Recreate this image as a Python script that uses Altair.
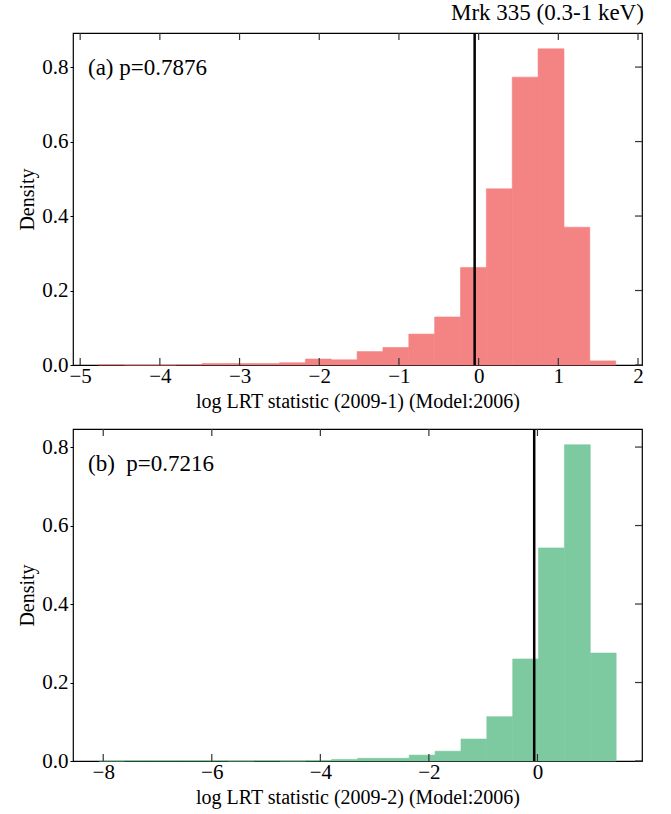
import altair as alt
import pandas as pd

FONT = "Liberation Serif"

# Panel (a): 2009-1
edges_a = [-4.770, -4.446, -4.121, -3.797, -3.472, -3.148, -2.823, -2.499, -2.174, -1.850,
           -1.525, -1.201, -0.876, -0.552, -0.227, 0.097, 0.422, 0.746, 1.071, 1.395, 1.720]
dens_a = [0.001, 0.0, 0.0, 0.001, 0.004, 0.004, 0.004, 0.006, 0.016, 0.014,
          0.036, 0.047, 0.083, 0.129, 0.262, 0.473, 0.773, 0.849, 0.370, 0.011]
obs_a = [-0.05]
xticks_a = [-5, -4, -3, -2, -1, 0, 1, 2]
xdom_a = [-5.09, 2.05]
ydom_a = [0, 0.8915]
label_a = "(a) p=0.7876"
title_a = "log LRT statistic (2009-1) (Model:2006)"

# Panel (b): 2009-2
edges_b = [-8.080, -7.604, -7.127, -6.651, -6.174, -5.698, -5.221, -4.745, -4.268, -3.792,
           -3.315, -2.839, -2.362, -1.886, -1.409, -0.933, -0.456, 0.020, 0.497, 0.973, 1.450]
dens_b = [0.0, 0.001, 0.001, 0.001, 0.001, 0.0, 0.001, 0.0, 0.001, 0.004,
          0.007, 0.007, 0.015, 0.025, 0.056, 0.113, 0.260, 0.543, 0.806, 0.275]
obs_b = [-0.06]
xticks_b = [-8, -6, -4, -2, 0]
xdom_b = [-8.557, 1.926]
ydom_b = [0, 0.846]
label_b = "(b)\u00a0 p=0.7216"
title_b = "log LRT statistic (2009-2) (Model:2006)"

yticks = [0.0, 0.2, 0.4, 0.6, 0.8]
main_title = "Mrk 335 (0.3-1 keV)"

W, H = 569, 332
TL = 7


def panel(edges, dens, obs, xticks, xdom, ydom, label, xtitle, color):
    bars = pd.DataFrame({"lo": edges[:-1], "hi": edges[1:], "d": dens, "z": [0.0] * len(dens)})
    xs = alt.Scale(domain=xdom, nice=False, zero=False)
    ys = alt.Scale(domain=ydom, nice=False, zero=False)
    base = alt.Chart(bars)
    rect = base.mark_rect(color=color, opacity=1, stroke=color, strokeWidth=0.6).encode(
        x=alt.X("lo:Q", scale=xs,
                axis=alt.Axis(values=xticks, title=xtitle, ticks=False, domain=False, grid=False,
                              labelPadding=0, titlePadding=5, format="d")),
        x2="hi:Q",
        y=alt.Y("d:Q", scale=ys,
                axis=alt.Axis(values=yticks, title="Density", format=".1f", tickSize=3,
                              tickColor="black", domain=False, grid=False, labelPadding=2,
                              titlePadding=4)),
        y2="z:Q",
    )
    vline = alt.Chart(pd.DataFrame({"v": obs})).mark_rule(color="black", strokeWidth=2.5).encode(
        x=alt.X("v:Q", scale=xs))
    xt = pd.DataFrame({"t": xticks})
    yt = pd.DataFrame({"t": yticks})
    bt = alt.Chart(xt).mark_rule(color="#333333", strokeWidth=1.2).encode(
        x=alt.X("t:Q", scale=xs), y=alt.value(H), y2=alt.value(H - TL))
    tt = alt.Chart(xt).mark_rule(color="#333333", strokeWidth=1.2).encode(
        x=alt.X("t:Q", scale=xs), y=alt.value(0), y2=alt.value(TL))
    rt = alt.Chart(yt).mark_rule(color="#333333", strokeWidth=1.2).encode(
        y=alt.Y("t:Q", scale=ys), x=alt.value(W - TL), x2=alt.value(W))
    txt = alt.Chart(pd.DataFrame({"s": [label]})).mark_text(
        align="left", baseline="alphabetic", font=FONT, fontSize=23, color="black").encode(
        x=alt.value(15), y=alt.value(42), text="s:N")
    return alt.layer(rect, vline, bt, tt, rt, txt).properties(width=W, height=H)


top = panel(edges_a, dens_a, obs_a, xticks_a, xdom_a, ydom_a, label_a, title_a, "#F48383")
bot = panel(edges_b, dens_b, obs_b, xticks_b, xdom_b, ydom_b, label_b, title_b, "#7DC9A0")

chart = alt.vconcat(top, bot, spacing=15).properties(
    title=alt.TitleParams(main_title, anchor="end", font=FONT, fontSize=23, fontWeight="normal",
                          color="black", offset=6),
    padding={"left": 17, "top": 2, "right": 5, "bottom": 5},
    background="white",
).configure_view(stroke="black", strokeWidth=1.2).configure_axis(
    labelFont=FONT, titleFont=FONT, labelFontSize=21, titleFontSize=20,
    labelColor="black", titleColor="black", titleFontWeight="normal",
)

chart.save("out.html", embed_options={"renderer": "svg", "actions": False})
